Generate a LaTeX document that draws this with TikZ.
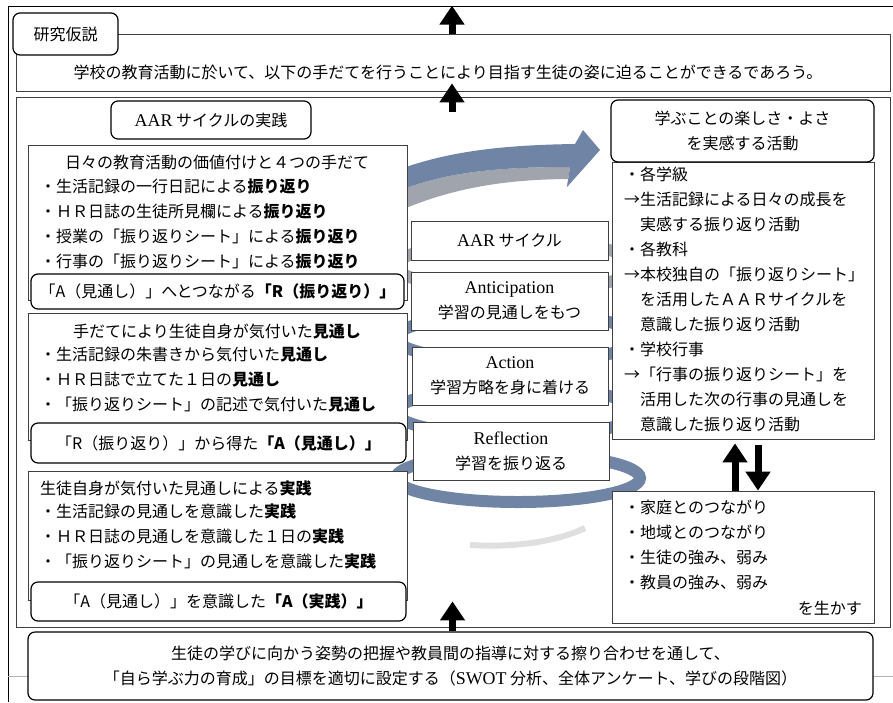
\documentclass[tikz,border=0pt]{standalone}
\usepackage{fontspec}
\setmainfont{Noto Sans CJK JP}
\newfontfamily\lat{Liberation Serif}[Scale=1.12]
\usetikzlibrary{arrows.meta}
\definecolor{sblue}{RGB}{112,132,166}
\definecolor{sgray}{RGB}{160,164,172}

\begin{document}
\begin{tikzpicture}
  [x=1pt, y=-1pt,
   sbox/.style={draw=black!75, line width=0.8pt, fill=white, inner sep=0},
   rbox/.style={draw=black, line width=1.2pt, rounded corners=7pt, fill=white, inner sep=0},
   jtxt/.style={inner sep=0, font=\fontsize{16}{25}\selectfont, align=left},
   ctxt/.style={inner sep=0, font=\fontsize{16}{25}\selectfont, align=center},
   barrow/.style={line width=7pt, -{Triangle[width=24pt,length=19pt]}}]

  \useasboundingbox (0,0) rectangle (893,702);

  % outer frame
  \draw[line width=1pt] (8,702) -- (8,6) -- (893,6);
  \draw[thin, gray!60] (8,676) -- (893,676);

  % hypothesis
  \node[sbox, minimum width=874pt, minimum height=57pt] (hyp) at (453,62.5) {};
  \node[ctxt] (hyptxt) at (448,72)
    {学校の教育活動に於いて、以下の手だてを行うことにより目指す生徒の姿に迫ることができるであろう。};
  \node[rbox, ctxt, minimum width=105pt, minimum height=42pt] (kenkyu) at (65.5,34) {研究仮説};

  % main frame
  \node[draw=black!75, line width=0.8pt, minimum width=874pt, minimum height=530pt, inner sep=0] (main) at (453,362) {};

  % spiral behind the middle boxes
  \foreach \cy/\col in {266/sgray, 338/sblue, 412/sblue, 478/sblue}
    \draw[line width=12pt, \col] (518,\cy) ellipse [x radius=122, y radius=24];
  \draw[line width=6pt, gray!25] (470,545) .. controls (520,548) and (560,540) .. (585,528);
  \fill[sgray] (406,188) .. controls (450,172) and (500,167) .. (570,167) -- (567,187)
    -- (572,179) .. controls (500,179) and (450,190) .. (406,208) -- cycle;
  \fill[sblue] (406,167) .. controls (450,152) and (500,145) .. (575,144) -- (583,130)
    -- (600,150) -- (567,187) -- (570,167) .. controls (500,167) and (450,172) .. (406,188) -- cycle;

  % AAR practice (left column)
  \node[rbox, ctxt, minimum width=200pt, minimum height=38pt] (aarj) at (211,120) {{\lat AAR} サイクルの実践};

  \node[sbox, minimum width=379pt, minimum height=155pt] (left1) at (217.5,222.5) {};
  \node[ctxt] (l1title) at (217,162) {日々の教育活動の価値付けと４つの手だて};
  \node[jtxt, anchor=north west] (l1items) at (40,179)
    {・生活記録の一行日記による\textbf{振り返り}\\
     ・ＨＲ日誌の生徒所見欄による\textbf{振り返り}\\
     ・授業の「振り返りシート」による\textbf{振り返り}\\
     ・行事の「振り返りシート」による\textbf{振り返り}};
  \node[rbox, ctxt, minimum width=373pt, minimum height=35pt] (left1r) at (217.5,291.5)
    {「A（見通し）」へとつながる\textbf{「R（振り返り）」}};

  \node[sbox, minimum width=379pt, minimum height=127pt] (left2) at (217.5,376.5) {};
  \node[ctxt] (l2title) at (217,332) {手だてにより生徒自身が気付いた\textbf{見通し}};
  \node[jtxt, anchor=north west] (l2items) at (40,347)
    {・生活記録の朱書きから気付いた\textbf{見通し}\\
     ・ＨＲ日誌で立てた１日の\textbf{見通し}\\
     ・「振り返りシート」の記述で気付いた\textbf{見通し}};
  \node[rbox, ctxt, minimum width=375pt, minimum height=40pt] (left2r) at (218.5,443)
    {「R（振り返り）」から得た\textbf{「A（見通し）」}};

  \node[sbox, minimum width=379pt, minimum height=129pt] (left3) at (217.5,535.5) {};
  \node[jtxt, anchor=west] (l3title) at (40,488) {生徒自身が気付いた見通しによる\textbf{実践}};
  \node[jtxt, anchor=north west] (l3items) at (40,504)
    {・生活記録の見通しを意識した\textbf{実践}\\
     ・ＨＲ日誌の見通しを意識した１日の\textbf{実践}\\
     ・「振り返りシート」の見通しを意識した\textbf{実践}};
  \node[rbox, ctxt, minimum width=375pt, minimum height=39pt] (left3r) at (218.5,601.5)
    {「A（見通し）」を意識した\textbf{「A（実践）」}};

  % AAR cycle (middle column)
  \node[sbox, ctxt, minimum width=197pt, minimum height=39pt] (cyc) at (509.5,240.5) {{\lat AAR} サイクル};
  \node[sbox, ctxt, minimum width=197pt, minimum height=58pt] (ant) at (509.5,301) {{\lat Anticipation}\\学習の見通しをもつ};
  \node[sbox, ctxt, minimum width=196pt, minimum height=58pt] (act) at (510,376) {{\lat Action}\\学習方略を身に着ける};
  \node[sbox, ctxt, minimum width=196pt, minimum height=58pt] (ref) at (511,451) {{\lat Reflection}\\学習を振り返る};

  % activities (right column)
  \node[sbox, minimum width=262pt, minimum height=277pt] (rmid) at (743,300.5) {};
  \node[rbox, ctxt, minimum width=263pt, minimum height=62pt] (rtop) at (742.5,131)
    {学ぶことの楽しさ・よさ\\を実感する活動};
  \node[jtxt, anchor=north west] (rmidtxt) at (624,167)
    {・各学級\\
     →生活記録による日々の成長を\\
     　実感する振り返り活動\\
     ・各教科\\
     →本校独自の「振り返りシート」\\
     　を活用したＡＡＲサイクルを\\
     　意識した振り返り活動\\
     ・学校行事\\
     →「行事の振り返りシート」を\\
     　活用した次の行事の見通しを\\
     　意識した振り返り活動};

  \node[sbox, minimum width=262pt, minimum height=132pt] (rbot) at (743,557) {};
  \node[jtxt, anchor=north west] (rbottxt) at (624,500)
    {・家庭とのつながり\\
     ・地域とのつながり\\
     ・生徒の強み、弱み\\
     ・教員の強み、弱み};
  \node[jtxt, anchor=east] (ikasu) at (862,608) {を生かす};

  % goal setting
  \node[rbox, ctxt, minimum width=845pt, minimum height=68pt] (goal) at (450.5,666)
    {生徒の学びに向かう姿勢の把握や教員間の指導に対する擦り合わせを通して、\\
     「自ら学ぶ力の育成」の目標を適切に設定する（{\lat SWOT} 分析、全体アンケート、学びの段階図）};

  % arrows
  \draw[barrow] ([xshift=-1pt]hyp.north) -- ([xshift=-1pt,yshift=28pt]hyp.north);
  \draw[barrow] ([xshift=-1pt,yshift=-15pt]main.north) -- ([xshift=-1pt,yshift=8pt]hyp.south);
  \draw[barrow] ([xshift=2pt]goal.north) -- ([xshift=2pt,yshift=30pt]goal.north);
  \draw[barrow] ([xshift=-8pt]rbot.north) -- ([xshift=-8pt,yshift=-4pt]rmid.south);
  \draw[barrow] ([xshift=15pt,yshift=-6pt]rmid.south) -- ([xshift=15pt]rbot.north);

\end{tikzpicture}
\end{document}
